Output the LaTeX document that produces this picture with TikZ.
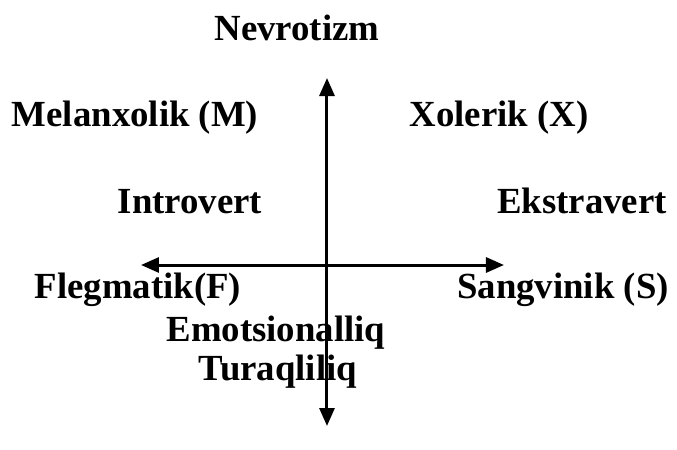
\documentclass[tikz,border=0pt]{standalone}
\usepackage{fontspec}
\setmainfont{Liberation Serif}
\usetikzlibrary{arrows.meta}

\begin{document}
\begin{tikzpicture}[x=0.5pt, y=-0.5pt, line width=1.5pt, axis/.style={{Triangle[length=9pt,width=7.5pt]}-{Triangle[length=9pt,width=7.5pt]}}, main label/.style={font=\fontsize{18.4}{22}\selectfont\bfseries, inner sep=0pt, anchor=base}]
  \useasboundingbox (0,0) rectangle (677,450);
  \coordinate (top) at (327,78);
  \coordinate (bottom) at (327,426);
  \coordinate (left) at (141,265);
  \coordinate (right) at (504,265);

  \node[main label] (nevro) at (297,40) {Nevrotizm};
  \node[main label] (mel) at (135,126) {Melanxolik (M)};
  \node[main label] (xol) at (499,126) {Xolerik (X)};
  \node[main label] (intro) at (190,213) {Introvert};
  \node[main label] (ekstra) at (582,213) {Ekstravert};
  \node[main label] (fleg) at (138,298) {Flegmatik(F)};
  \node[main label] (sang) at (563,298) {Sangvinik (S)};
  \node[main label] (emo) at (276,341) {Emotsionalliq};
  \node[main label] (tura) at (278,380) {Turaqliliq};

  \draw[axis] (top) -- (bottom);
  \draw[axis] (left) -- (right);
\end{tikzpicture}
\end{document}
